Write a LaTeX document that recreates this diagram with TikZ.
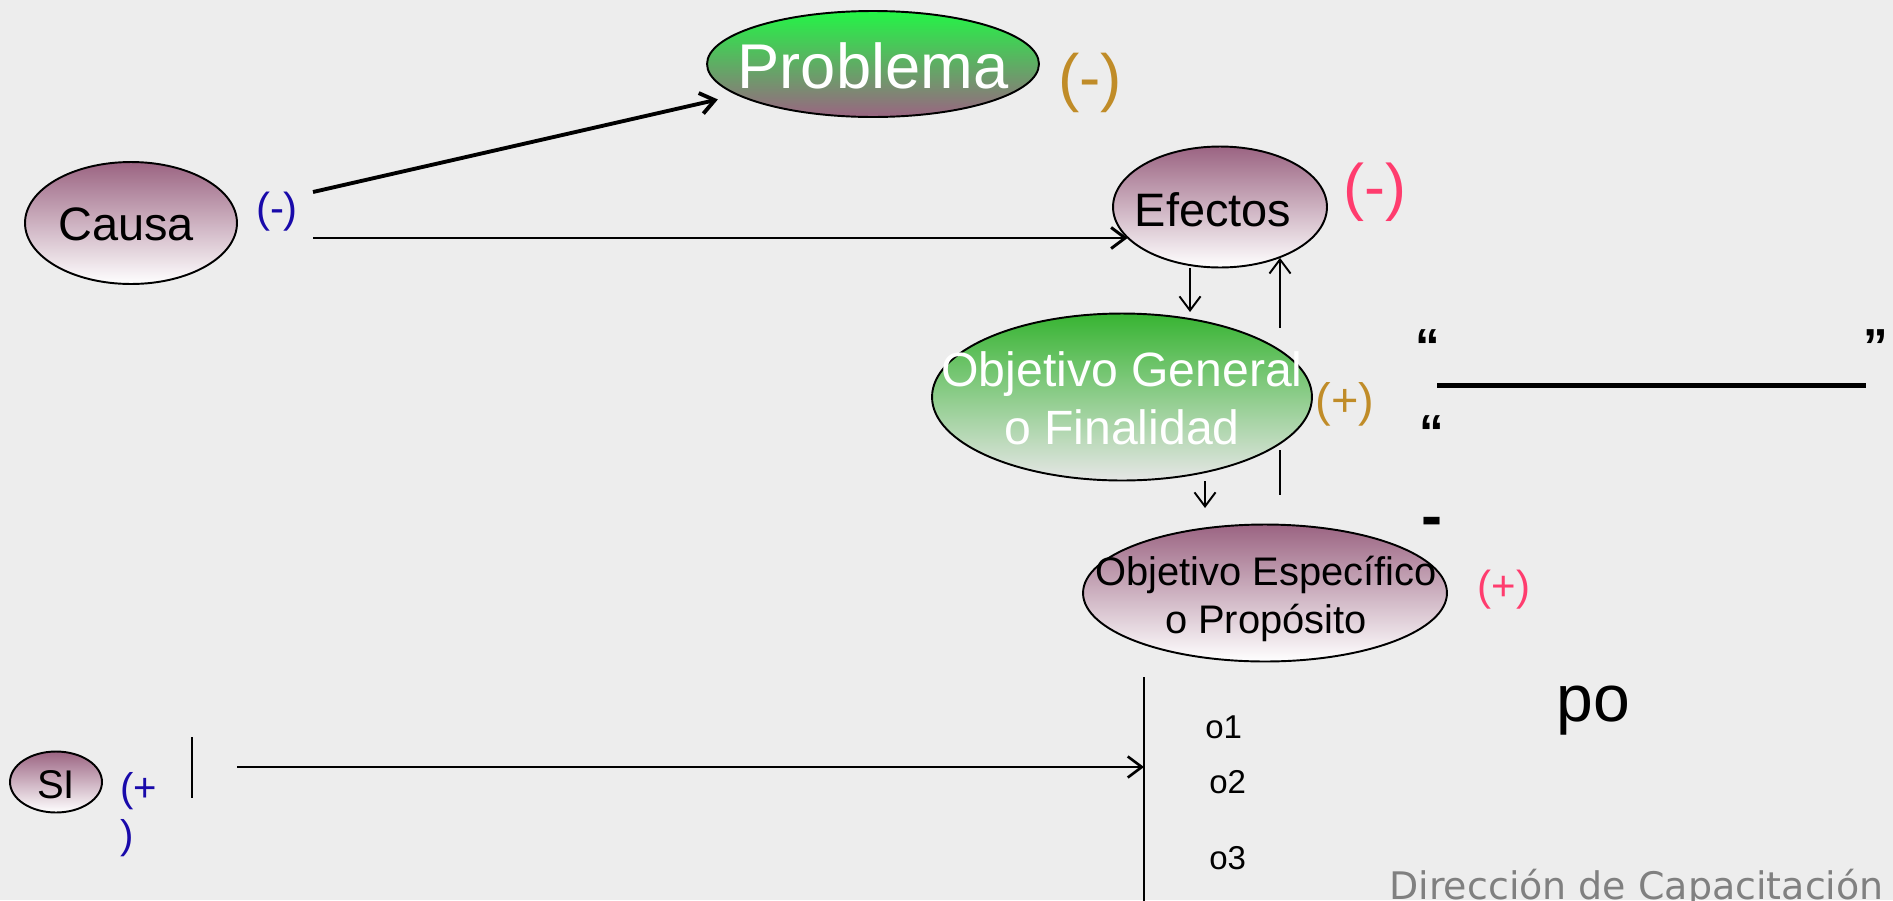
\documentclass[tikz,border=0pt]{standalone}
\usepackage{fontspec}
\setmainfont{Liberation Sans}
\newfontfamily\footfont{DejaVu Sans}
\usepackage{xcolor}
\usepackage{tikz}
\usetikzlibrary{positioning, arrows.meta, shapes.geometric}

\definecolor{bgray}{RGB}{237,237,237}
\definecolor{mauve}{RGB}{155,100,130}
\definecolor{lime}{RGB}{35,245,70}
\definecolor{leaf}{RGB}{55,180,50}
\definecolor{pale}{RGB}{230,230,230}
\definecolor{gold}{RGB}{192,140,40}
\definecolor{inkblue}{RGB}{25,10,170}
\definecolor{rose}{RGB}{255,60,110}

\newcommand{\fs}[2]{\fontsize{#1}{#2}\selectfont}

\begin{document}
\begin{tikzpicture}[x=0.02cm, y=-0.02cm,
    oval/.style={ellipse, draw, line width=1.1pt, inner sep=0pt},
    mauveoval/.style={oval, top color=mauve, bottom color=white},
    lbl/.style={inner sep=0pt, anchor=base},
    quotemark/.style={inner sep=0pt, anchor=north, font=\bfseries\fs{28}{30}},
    arr/.style={line width=1.1pt, -{Straight Barb[length=8pt, width=12pt]}}]
    \useasboundingbox (0,0) rectangle (1893,900);
    \clip (0,0) rectangle (1893,900);
    \fill[bgray] (0,0) rectangle (1893,900);

    % ovals
    \node[oval, top color=lime, bottom color=mauve, minimum width=6.64cm, minimum height=2.12cm] (prob) at (873,64) {};
    \node[mauveoval, minimum width=4.24cm, minimum height=2.44cm] (causa) at (131,223) {};
    \node[mauveoval, minimum width=4.28cm, minimum height=2.42cm] (efectos) at (1220,207) {};
    \node[oval, top color=leaf, bottom color=pale, minimum width=7.6cm, minimum height=3.34cm] (og) at (1122,397) {};
    \node[mauveoval, minimum width=7.28cm, minimum height=2.74cm] (oe) at (1265,593) {};
    \node[mauveoval, minimum width=1.84cm, minimum height=1.22cm] (si) at (56,782) {};

    % texts (multi-line ones sit on their last baseline)
    \node[lbl, white, font=\fs{36}{40}] (probtxt) at (873,88) {Problema};
    \node[lbl, gold, font=\fs{36.4}{40}] (probsign) at (1090,99) {(-)};
    \node[lbl, font=\fs{26.7}{30}] (causatxt) at (126,240) {Causa};
    \node[lbl, inkblue, font=\fs{23.9}{28}] (causasign) at (277,222) {(-)};
    \node[lbl, font=\fs{26.7}{30}] (efectostxt) at (1213,226) {Efectos};
    \node[lbl, rose, font=\fs{35.8}{40}] (efectossign) at (1375,208) {(-)};
    \node[lbl, white, align=center, font=\fs{27.4}{33}] (ogtxt) at (1122,444) {Objetivo General\\o Finalidad};
    \node[lbl, gold, font=\fs{26.7}{30}] (ogsign) at (1345,416) {(+)};
    \node[lbl, align=center, font=\fs{22.7}{27.3}] (oetxt) at (1266,633) {Objetivo Específico\\o Propósito};
    \node[lbl, rose, font=\fs{23.9}{28}] (oesign) at (1504,600) {(+)};
    \node[lbl, font=\fs{22.8}{26}] (sitxt) at (56,798) {SI};
    \node[lbl, anchor=base west, inkblue, align=left, font=\fs{22.8}{26.7}] (sisign) at (120,848) {(+\\)};

    \node[quotemark] (qa) at (1428,329) {“};
    \node[quotemark] (qb) at (1876,329) {”};
    \node[quotemark] (qc) at (1432,415) {“};
    \node[quotemark, font=\bfseries\fs{36}{40}] (hyph) at (1432,517) {-};
    \coordinate (rulea) at (1437,385); \coordinate (ruleb) at (1866,385);
    \draw[line width=2.85pt] (rulea) -- (ruleb);

    \node[lbl, anchor=base west, font=\fs{37.6}{40}] (po) at (1556,721) {po};
    \foreach \n/\x/\y in {1/1205/738, 2/1209/793, 3/1209/869}
        \node[lbl, anchor=base west, font=\fs{18.8}{20}] (o\n) at (\x,\y) {o\n};
    \node[lbl, anchor=base west, gray, font=\footfont\fs{21.6}{24}] (footer) at (1389,899) {Dirección de Capacitación};

    % connectors
    \coordinate (causaup) at (313,192); \coordinate (causalow) at (313,238);
    \draw[arr, line width=2.2pt, shorten >=11pt] (causaup) -- (prob);
    \draw[arr, line width=1.7pt] (causalow) -- (causalow -| efectos.199);
    \coordinate (dn1) at (1190,312); \coordinate (up1) at (1280,328);
    \draw[arr] (efectos.south -| dn1) -- (dn1);
    \draw[arr] (up1) -- (up1 |- efectos.320);
    \coordinate (bar1) at (1280,450); \coordinate (bar2) at (1280,495);
    \draw[line width=1.1pt] (bar1) -- (bar2);
    \coordinate (dn2) at (1205,508);
    \draw[arr] (og.south -| dn2) -- (dn2);

    \coordinate (sibar1) at (192,737); \coordinate (sibar2) at (192,798);
    \draw[line width=1.1pt] (sibar1) -- (sibar2);
    \coordinate (outtop) at (1144,677); \coordinate (outbot) at (1144,905);
    \draw[line width=1.1pt] (outtop) -- (outbot);
    \coordinate (siarr) at (237,767);
    \draw[arr, line width=1.5pt] (siarr) -- (siarr -| outtop);
\end{tikzpicture}
\end{document}
